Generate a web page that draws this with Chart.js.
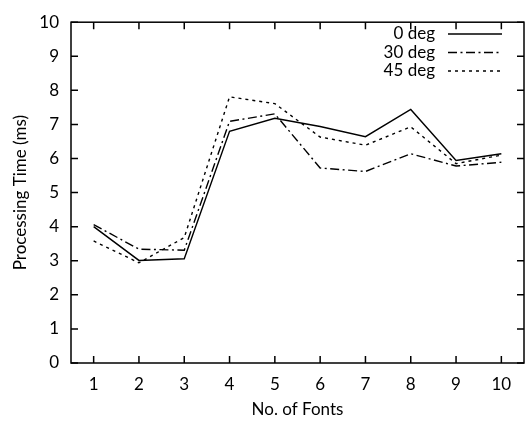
<!DOCTYPE html>
<html>
<head>
<meta charset="utf-8">
<script src="https://cdn.jsdelivr.net/npm/chart.js@4"></script>
<style>
  html, body { margin: 0; padding: 0; background: #fff; }
  #wrap { width: 528px; height: 425px; }
</style>
</head>
<body>
<div id="wrap"><canvas id="chart" width="528" height="425"></canvas></div>
<script>
const fontCounts = ["1", "2", "3", "4", "5", "6", "7", "8", "9", "10"];
const deg0 = [4.0, 3.01, 3.06, 6.8, 7.18, 6.94, 6.64, 7.44, 5.94, 6.14];
const deg30 = [4.06, 3.34, 3.31, 7.09, 7.31, 5.72, 5.62, 6.14, 5.78, 5.89];
const deg45 = [3.58, 2.94, 3.68, 7.81, 7.61, 6.63, 6.39, 6.93, 5.85, 6.1];
const seriesNames = ["0 deg", "30 deg", "45 deg"];
const yTicks = [0, 1, 2, 3, 4, 5, 6, 7, 8, 9, 10];

const FONT = 'Lato, sans-serif';
const FSIZE = 17;
const dashes = [[], [9, 3.5, 2, 3.5], [3, 4]];

// gnuplot style: frame all round, ticks pointing inward on every side
const framePlugin = {
  id: "frame",
  afterDraw(chart) {
    const { ctx, chartArea: a, scales } = chart;
    const len = 7;
    ctx.save();
    ctx.strokeStyle = "#000";
    ctx.lineWidth = 1.5;
    ctx.strokeRect(a.left, a.top, a.right - a.left, a.bottom - a.top);
    ctx.beginPath();
    scales.y.ticks.forEach((t) => {
      const y = scales.y.getPixelForValue(t.value);
      ctx.moveTo(a.left, y); ctx.lineTo(a.left + len, y);
      ctx.moveTo(a.right, y); ctx.lineTo(a.right - len, y);
    });
    scales.x.ticks.forEach((t, i) => {
      const x = scales.x.getPixelForTick(i);
      ctx.moveTo(x, a.bottom); ctx.lineTo(x, a.bottom - len);
      ctx.moveTo(x, a.top); ctx.lineTo(x, a.top + len);
    });
    ctx.stroke();

    // key: label right-aligned, line sample to its right
    ctx.font = FSIZE + "px " + FONT;
    ctx.fillStyle = "#000";
    ctx.textAlign = "right";
    ctx.textBaseline = "middle";
    ctx.lineWidth = 1.4;
    chart.data.datasets.forEach((ds, i) => {
      const y = 34 + i * 18.5;
      ctx.fillText(ds.label, 435, y);
      ctx.beginPath();
      ctx.setLineDash(ds.borderDash);
      ctx.moveTo(448, y);
      ctx.lineTo(502, y);
      ctx.stroke();
    });
    ctx.restore();
  },
};

const makeSet = (label, data, i) => ({
  label,
  data,
  borderColor: "#000",
  borderWidth: 1.4,
  borderDash: dashes[i],
  pointRadius: 0,
  tension: 0,
  fill: false,
});

new Chart(document.getElementById("chart"), {
  type: "line",
  data: {
    labels: fontCounts,
    datasets: [
      makeSet(seriesNames[0], deg0, 0),
      makeSet(seriesNames[1], deg30, 1),
      makeSet(seriesNames[2], deg45, 2),
    ],
  },
  options: {
    responsive: false,
    animation: false,
    events: [],
    layout: { padding: { left: 0, right: 4, top: 14, bottom: 0 } },
    plugins: { legend: { display: false }, tooltip: { enabled: false } },
    scales: {
      x: {
        type: "category",
        offset: true,
        grid: { display: false, drawTicks: false },
        border: { display: false },
        ticks: { color: "#000", font: { family: FONT, size: FSIZE }, padding: 11, maxRotation: 0 },
        title: { display: true, text: "No. of Fonts", color: "#000", font: { family: FONT, size: FSIZE }, padding: { top: 0, bottom: 5 } },
        afterFit: (s) => { s.height = 62; },
      },
      y: {
        min: 0,
        max: 10,
        grid: { display: false, drawTicks: false },
        border: { display: false },
        afterBuildTicks: (s) => { s.ticks = yTicks.map((v) => ({ value: v })); },
        ticks: { color: "#000", font: { family: FONT, size: FSIZE }, padding: 12 },
        title: { display: true, text: "Processing Time (ms)", color: "#000", font: { family: FONT, size: FSIZE }, padding: { top: 10, bottom: 0 } },
        afterFit: (s) => { s.width = 71; },
      },
    },
  },
  plugins: [framePlugin],
});
</script>
</body>
</html>
